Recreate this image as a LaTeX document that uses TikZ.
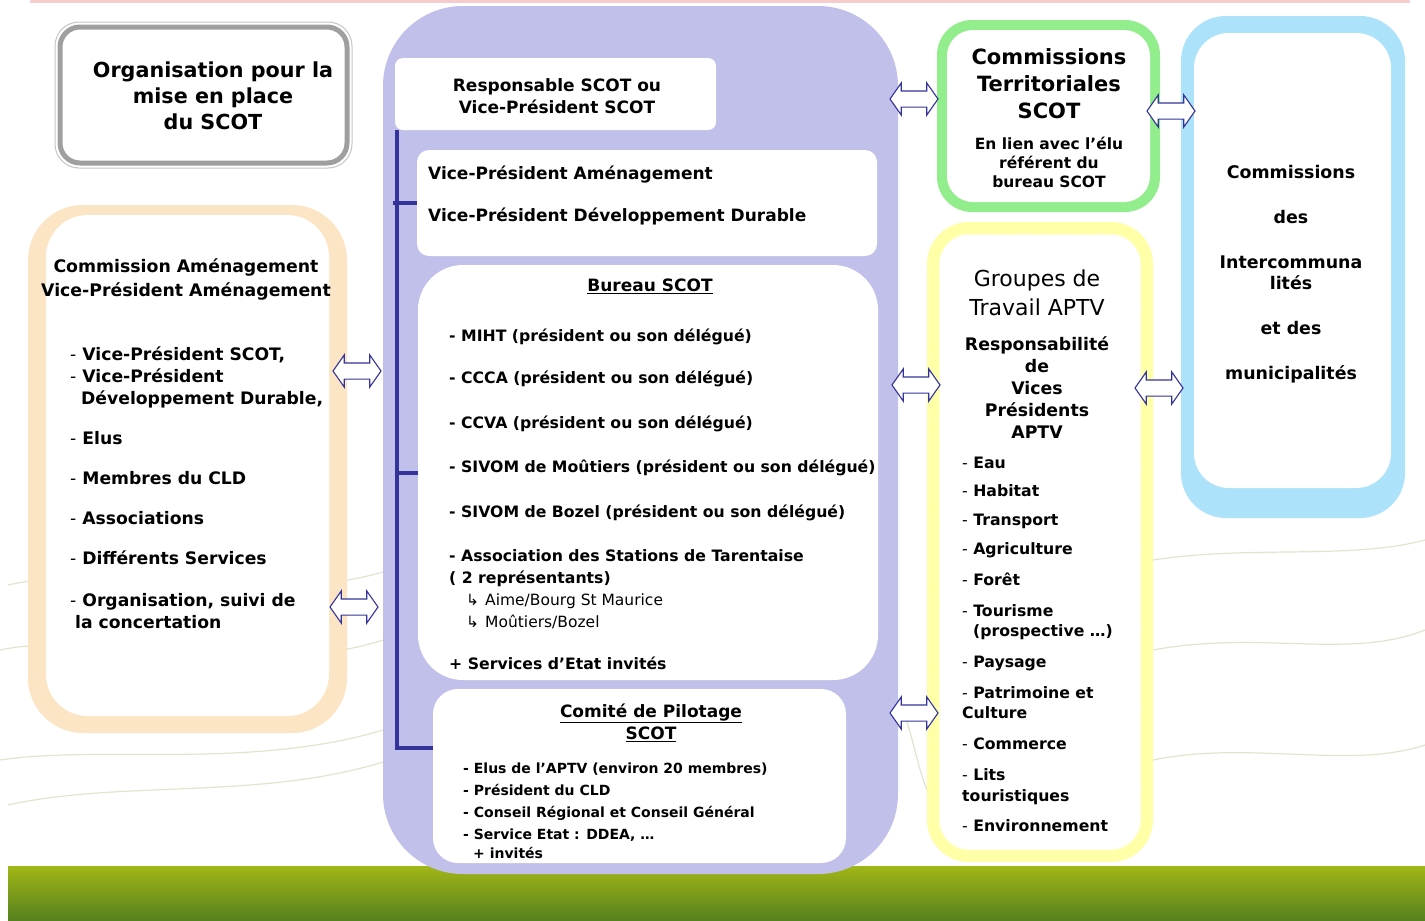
\documentclass[tikz,border=0pt]{standalone}
\usepackage{fontspec}
\setmainfont{DejaVu Sans}
\usetikzlibrary{shapes.arrows}

\definecolor{lav}{RGB}{192,192,234}
\definecolor{navy}{RGB}{51,51,153}
\definecolor{peach}{RGB}{252,229,196}
\definecolor{mint}{RGB}{146,238,140}
\definecolor{sky}{RGB}{172,226,250}
\definecolor{lemon}{RGB}{255,255,168}
\definecolor{bandtop}{RGB}{162,182,22}
\definecolor{bandbot}{RGB}{84,128,30}
\definecolor{landline}{RGB}{224,230,204}
\definecolor{pinkline}{RGB}{246,204,204}

\newcommand{\ldash}{{\mdseries -}}
\newcommand{\fs}[2]{\fontsize{#1}{#2}\selectfont}

\begin{document}
\begin{tikzpicture}[x=1pt,y=-1pt,
    frame/.style={fill=#1, inner sep=0},
    card/.style={fill=white, inner sep=0},
    txt/.style={inner sep=0, align=left, font=\bfseries\fs{17}{22}},
    ctxt/.style={inner sep=0, align=center, font=\bfseries\fs{17}{22}},
    dblarrow/.style={double arrow, draw=navy, fill=white, line width=1.1,
      inner xsep=0, inner ysep=7.5, minimum height=48,
      double arrow head extend=8, double arrow tip angle=110},
    spine/.style={draw=navy, line width=4}]

\useasboundingbox (0,0) rectangle (1425,921);
\fill[white] (0,0) rectangle (1425,921);
\fill[pinkline] (30,0) rectangle (1410,3);

\draw[landline, line width=1.2] (8,585) .. controls (120,560) and (250,610) .. (383,572);
\draw[landline, line width=1.2] (0,650) .. controls (90,630) and (260,680) .. (383,640);
\draw[landline, line width=1.2] (8,805) .. controls (120,780) and (260,800) .. (383,762);
\draw[landline, line width=1.2] (0,760) .. controls (100,745) and (250,770) .. (383,730);
\draw[landline, line width=1.2] (898,700) .. controls (910,720) and (915,760) .. (927,790);
\draw[landline, line width=1.2] (1153,560) .. controls (1250,545) and (1350,560) .. (1425,540);
\draw[landline, line width=1.2] (1153,650) .. controls (1260,630) and (1350,660) .. (1425,630);
\draw[landline, line width=1.2] (1153,760) .. controls (1250,740) and (1350,770) .. (1425,745);

\shade[top color=bandtop, bottom color=bandbot] (8,866) rectangle (1425,921);

\node[draw=gray!45, line width=1, rounded corners=24, minimum width=297, minimum height=146, inner sep=0] (orgfr) at (203.5,95) {};
\node[draw=gray!75, line width=5, card, rounded corners=20, minimum width=287, minimum height=136] (org) at (203.5,95) {};
\node[ctxt, font=\bfseries\fs{20.7}{26}, anchor=north] (orgtxt) at (213,61.5) {Organisation pour la\\mise en place\\du SCOT};

\node[frame=lav, rounded corners=80, minimum width=515, minimum height=868] (scot) at (640.5,440) {};
\node[card, rounded corners=8, minimum width=321, minimum height=72] (resp) at (555.5,94) {};
\node[ctxt, anchor=north] (resptxt) at (557,78.5) {Responsable SCOT ou\\Vice-Président SCOT};
\node[card, rounded corners=12, minimum width=460, minimum height=106] (vp) at (647,203) {};
\node[txt, anchor=north west] (vptxt) at (428,165.5) {Vice-Président Aménagement\\[20pt]Vice-Président Développement Durable};

\node[card, rounded corners=45, minimum width=460, minimum height=415] (bureau) at (648,472.5) {};
\node[ctxt, anchor=north] (bureautitle) at (650,278.5) {\underline{Bureau SCOT}};
\node[txt, font=\bfseries\fs{15.7}{22}, anchor=north west] (bureaulist) at (449,329) {%
- MIHT (président ou son délégué)\\[20pt]
- CCCA (président ou son délégué)\\[23pt]
- CCVA (président ou son délégué)\\[22pt]
- SIVOM de Moûtiers (président ou son délégué)\\[23pt]
- SIVOM de Bozel (président ou son délégué)\\[22pt]
- Association des Stations de Tarentaise\\
( 2 représentants)\\
\hspace*{17pt}{\mdseries\fs{15.5}{22}↳\hspace{6pt}Aime/Bourg St Maurice}\\
\hspace*{17pt}{\mdseries\fs{15.5}{22}↳\hspace{6pt}Moûtiers/Bozel}\\[20pt]
+ Services d’Etat invités};

\node[card, rounded corners=25, minimum width=413, minimum height=174] (comite) at (639.5,776) {};
\node[ctxt, anchor=north] (comitetitle) at (651,703.5) {\underline{Comité de Pilotage}\\\underline{SCOT}};
\node[txt, font=\bfseries\fs{14}{22}, anchor=north west] (comitelist) at (463,763) {%
- Elus de l’APTV (environ 20 membres)\\
- Président du CLD\\
- Conseil Régional et Conseil Général\\
- Service Etat : DDEA, \dots\\[-3pt]
\hspace*{10pt}+ invités};

\draw[spine] ([xshift=2pt]resp.south west) |- ([yshift=28pt]comite.west);
\draw[spine] (vp.west) -- ++(-24,0);
\draw[spine] (bureau.west) -- ++(-22,0);

\node[frame=peach, rounded corners=55, minimum width=319, minimum height=528] (amfr) at (187.5,469) {};
\node[card, rounded corners=42, minimum width=283, minimum height=501] (am) at (187.5,465.5) {};
\node[ctxt, font=\bfseries\fs{17.3}{24}, anchor=north] (amtitle) at (186,258) {Commission Aménagement\\Vice-Président Aménagement};
\node[txt, font=\bfseries\fs{17.2}{22}, anchor=north west] (amlist) at (70,347) {%
\ldash{} Vice-Président SCOT,\\
\ldash{} Vice-Président\\
\hspace*{11pt}Développement Durable,\\[18pt]
\ldash{} Elus\\[18pt]
\ldash{} Membres du CLD\\[18pt]
\ldash{} Associations\\[18pt]
\ldash{} Différents Services\\[20pt]
\ldash{} Organisation, suivi de\\
\hspace*{5pt}la concertation};

\node[frame=mint, rounded corners=35, minimum width=223, minimum height=192] (terrfr) at (1048.5,116) {};
\node[card, rounded corners=26, minimum width=203, minimum height=172] (terr) at (1048.5,116) {};
\node[ctxt, font=\bfseries\fs{21}{27}, anchor=north] (terrtitle) at (1049,48.5) {Commissions\\Territoriales\\SCOT};
\node[ctxt, font=\bfseries\fs{15.5}{19}, anchor=north] (terrsub) at (1049,137) {En lien avec l’élu\\référent du\\bureau SCOT};

\node[frame=lemon, rounded corners=42, minimum width=226, minimum height=640] (grpfr) at (1040,542) {};
\node[card, draw=lemon!80!white, densely dotted, line width=1.5, rounded corners=30, minimum width=202, minimum height=616] (grp) at (1040,542) {};
\node[ctxt, font=\mdseries\fs{22}{29}, anchor=north] (grptitle) at (1037,270) {Groupes de\\Travail APTV};
\node[ctxt, font=\bfseries\fs{17.3}{22}, anchor=north] (grpresp) at (1037,336) {Responsabilité\\de\\Vices\\Présidents\\APTV};
\node[txt, font=\bfseries\fs{15.7}{20}, anchor=north west] (grplist) at (962,457) {%
\ldash{} Eau\\[8pt]
\ldash{} Habitat\\[9pt]
\ldash{} Transport\\[9pt]
\ldash{} Agriculture\\[11pt]
\ldash{} Forêt\\[11pt]
\ldash{} Tourisme\\
\hspace*{11pt}(prospective \dots)\\[11pt]
\ldash{} Paysage\\[11pt]
\ldash{} Patrimoine et\\
Culture\\[11pt]
\ldash{} Commerce\\[11pt]
\ldash{} Lits\\[1pt]
touristiques\\[10pt]
\ldash{} Environnement};

\node[frame=sky, rounded corners=45, minimum width=224, minimum height=502] (interfr) at (1293,267) {};
\node[card, rounded corners=35, minimum width=197, minimum height=455] (inter) at (1292.5,260.5) {};
\node[ctxt, font=\bfseries\fs{17.4}{21}, anchor=north] (intertxt) at (1291,165) {Commissions\\[24pt]des\\[24pt]Intercommuna\\lités\\[24pt]et des\\[24pt]municipalités};

\node[dblarrow] (scot-terr) at (914,99) {};
\node[dblarrow] (terr-inter) at (1171,111) {};
\node[dblarrow] (am-scot1) at (357,371) {};
\node[dblarrow] (am-scot2) at (354,607) {};
\node[dblarrow] (scot-grp1) at (916,385) {};
\node[dblarrow] (grp-inter) at (1159,388) {};
\node[dblarrow] (scot-grp2) at (914,713) {};

\end{tikzpicture}
\end{document}
